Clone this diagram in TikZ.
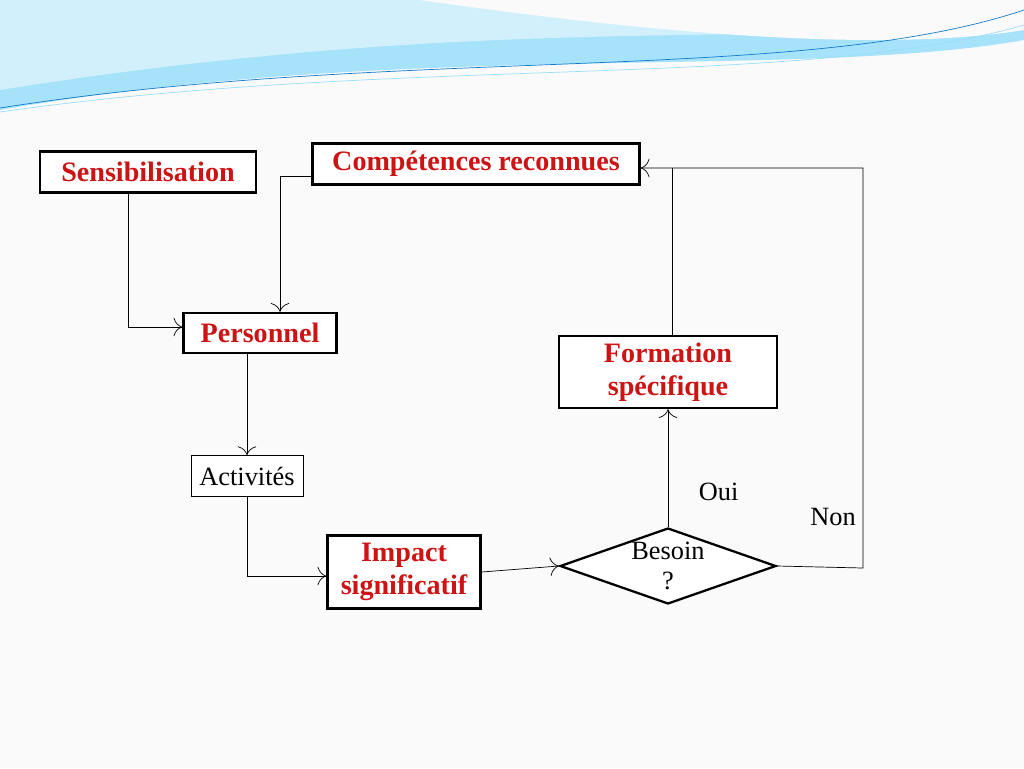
\documentclass[tikz,border=0pt]{standalone}
\usepackage{fontspec}
\setmainfont{Liberation Serif}
\usetikzlibrary{shapes.geometric,arrows.meta}
\definecolor{titlered}{RGB}{205,20,20}
\tikzset{
  box/.style={draw, line width=1.3pt, fill=white, font=\fontsize{16}{19}\selectfont\bfseries, text=titlered, align=center},
  plain/.style={draw, fill=white, font=\fontsize{15}{18}\selectfont, align=center},
  link/.style={-{To[length=5pt]}, black}
}
\begin{document}
\begin{tikzpicture}[x=0.02cm,y=0.02cm]
        \useasboundingbox (0,0) rectangle (1024,-768);
        \fill[white!96!gray] (0,0) rectangle (1024,-768);

        % Header swoosh
        \fill[cyan!35!white] (0,0) -- (1024,0) -- (1024,-40) .. controls (800,-80) and (400,-40) .. (0,-110) -- cycle;
        \fill[cyan!18!white] (0,0) -- (1024,0) -- (1024,-20) .. controls (800,-50) and (500,-10) .. (0,-90) -- cycle;
        \fill[white!96!gray] (420,0) .. controls (700,-40) and (900,-50) .. (1024,-30) -- (1024,0) -- cycle;
        \draw[cyan!60!blue, thin] (0,-108) .. controls (400,-45) and (800,-85) .. (1024,-10);
        \draw[cyan!40!white, thin] (0,-112) .. controls (400,-55) and (800,-90) .. (1024,-25);

        % Nodes
        \node[box, minimum width=216*0.02cm, minimum height=41*0.02cm] (sens) at (148,-172) {Sensibilisation};
        \node[box, minimum width=327*0.02cm, minimum height=41*0.02cm] (comp) at (476,-164) {Compétences reconnues};
        \node[box, minimum width=153*0.02cm, minimum height=40*0.02cm] (pers) at (260,-333) {Personnel};
        \node[plain, minimum width=112*0.02cm, minimum height=41*0.02cm] (act) at (247,-476) {Activités};
        \node[box, minimum width=153*0.02cm, minimum height=73*0.02cm] (imp) at (404,-572) {Impact\\significatif};
        \node[box, minimum width=218*0.02cm, minimum height=72*0.02cm] (form) at (668,-372) {Formation\\spécifique};
        \node[draw, line width=1.3pt, fill=white, diamond, aspect=2.85, minimum width=216*0.02cm, minimum height=76*0.02cm, inner sep=0,
              font=\fontsize{15}{17}\selectfont, align=center] (bes) at (668,-566) {Besoin\\?};

        % Turning points
        \coordinate (c1) at (128,-327);
        \coordinate (c2) at (280,-176);
        \coordinate (c3) at (247,-576);
        \coordinate (c4) at (863,-568);
        \coordinate (c5) at (863,-168);
        \coordinate (c6) at (672,-168);

        % Connectors
        \draw[link] (sens.south -| c1) -- (c1) -- (pers.west |- c1);
        \draw[link] (comp.west |- c2) -- (c2) -- (pers.north -| c2);
        \draw[link] (pers.south -| act) -- (act.north);
        \draw[link] (act.south) -- (c3) -- (imp.west |- c3);
        \draw[link] (imp.east) -- (bes.west);
        \draw[link] (bes.north) -- (form.south) node[pos=0.3, right=14, font=\fontsize{15}{18}\selectfont] {Oui};
        \draw (form.north -| c6) -- (c6);
        \draw[link] (bes.east) -- (c4) -- (c5) -- (comp.east |- c5);
        \node[font=\fontsize{15}{18}\selectfont] (non) at (833,-517) {Non};
\end{tikzpicture}
\end{document}
